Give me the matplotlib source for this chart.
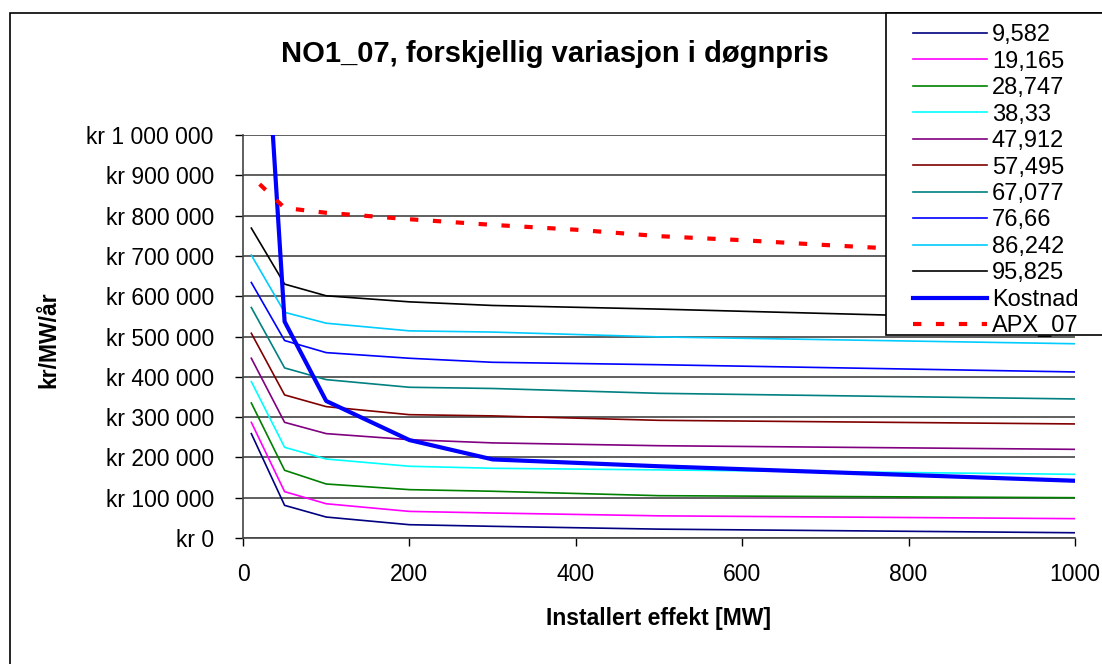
import matplotlib
matplotlib.use("Agg")
import matplotlib.pyplot as plt
from matplotlib.patches import Rectangle
from matplotlib.ticker import FuncFormatter

plt.rcParams['font.family'] = ['Liberation Sans', 'DejaVu Sans']

# installed capacity [MW]
effekt = [10, 50, 100, 200, 300, 500, 1000]

# kr/MW/år, one list per daily price variation
labels = ["9,582", "19,165", "28,747", "38,33", "47,912",
          "57,495", "67,077", "76,66", "86,242", "95,825"]
v_9582 = [259000, 81000, 52000, 33000, 29000, 22000, 13000]
v_19165 = [287000, 115000, 85000, 66000, 62000, 55000, 48000]
v_28747 = [335000, 168000, 134000, 120000, 116000, 105000, 100000]
v_38330 = [388000, 225000, 196000, 178000, 173000, 169000, 158000]
v_47912 = [446000, 287000, 259000, 244000, 236000, 229000, 220000]
v_57495 = [508000, 355000, 326000, 306000, 303000, 292000, 283000]
v_67077 = [572000, 422000, 393000, 374000, 371000, 359000, 345000]
v_76660 = [634000, 490000, 460000, 446000, 436000, 430000, 412000]
v_86242 = [702000, 560000, 533000, 514000, 511000, 499000, 482000]
v_95825 = [769000, 630000, 601000, 586000, 577000, 568000, 541000]

kostnad = [1850000, 537000, 340000, 243000, 195000, 178000, 142000]

apx_x = [20, 50, 100, 200, 300, 400, 500, 600, 700, 800, 900, 1000]
apx = [878000, 819000, 807000, 791000, 777000, 765000, 749000,
       739000, 727000, 716000, 705000, 695000]

series = [v_9582, v_19165, v_28747, v_38330, v_47912,
          v_57495, v_67077, v_76660, v_86242, v_95825]
colors = ["#000080", "#FF00FF", "#008000", "#00FFFF", "#800080",
          "#800000", "#008080", "#0000FF", "#00CCFF", "#000000"]

W, H = 1102, 664
fig = plt.figure(figsize=(W / 100, H / 100), dpi=100)
ax = fig.add_axes([243 / W, 1 - 538 / H, (1075 - 243) / W, (538 - 135) / H])

handles = []
for vals, lab, col in zip(series, labels, colors):
    h, = ax.plot(effekt, vals, color=col, lw=1.2, label=lab, zorder=3)
    handles.append(h)
h, = ax.plot(effekt, kostnad, color="#0000FF", lw=3.0, label="Kostnad", zorder=4)
handles.append(h)
h, = ax.plot(apx_x, apx, color="#FF0000", lw=3.0, ls=(0, (2.0, 3.5)),
             label="APX_07", zorder=4)
handles.append(h)

ax.set_xlim(0, 1000)
ax.set_ylim(0, 1000000)
ax.set_xticks(range(0, 1001, 200))
ax.set_yticks(range(0, 1000001, 100000))
ax.yaxis.set_major_formatter(FuncFormatter(lambda v, p: f"kr {v:,.0f}".replace(",", " ")))
ax.grid(axis="y", color="#444444", lw=1.2)
ax.set_axisbelow(True)
for s in ["top", "right"]:
    ax.spines[s].set_visible(False)
for s in ["left", "bottom"]:
    ax.spines[s].set_color("#444444")
    ax.spines[s].set_linewidth(1.2)
ax.tick_params(axis="y", direction="out", length=6, width=1, pad=15, labelsize=16.5)
ax.tick_params(axis="x", direction="out", length=6, width=1, pad=12, labelsize=16.5)

fig.text(555 / W, 1 - 62 / H, "NO1_07, forskjellig variasjon i døgnpris",
         ha="center", va="baseline", fontsize=21, fontweight="bold")
fig.text(49 / W, 1 - 340 / H, "kr/MW/år", ha="center", va="center",
         rotation=90, fontsize=16.5, fontweight="bold")
fig.text(659 / W, 1 - 625 / H, "Installert effekt [MW]", ha="center",
         va="baseline", fontsize=16.5, fontweight="bold")

# outer chart frame and legend box
fig.patches.append(Rectangle((10 / W, -0.05), 1.1, 1 - 13 / H + 0.05,
                             transform=fig.transFigure, fill=False,
                             edgecolor="black", lw=1.2, zorder=1))
fig.patches.append(Rectangle((886 / W, 1 - 335 / H), 0.3, (335 - 13) / H,
                             transform=fig.transFigure, facecolor="white",
                             edgecolor="black", lw=1.2, zorder=4))
leg = fig.legend(handles=handles, loc="upper left",
                 bbox_to_anchor=(906 / W, 1 - 17 / H), frameon=False,
                 fontsize=17, handlelength=3.13, handletextpad=0.21,
                 labelspacing=0.19, borderaxespad=0, borderpad=0.3)
leg.set_zorder(5)

fig.savefig("out.png", dpi=100)
